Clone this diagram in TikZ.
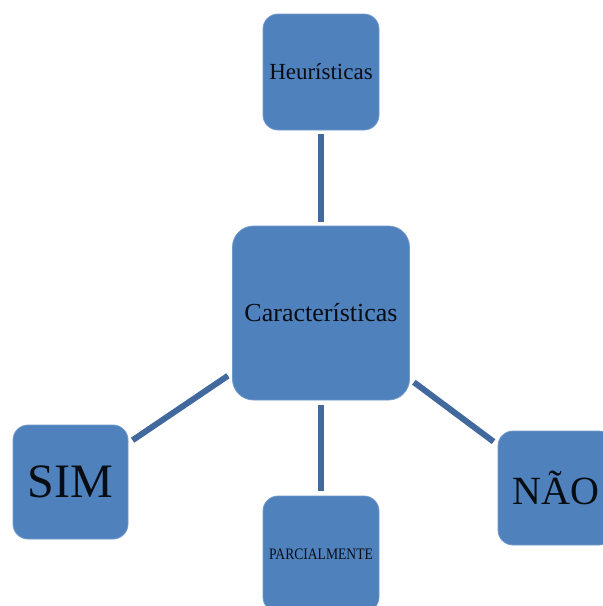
\documentclass[tikz,border=0pt]{standalone}
\usepackage{fontspec}
\setmainfont{Liberation Serif}
\usepackage{tikz}
\usetikzlibrary{calc}
\definecolor{boxblue}{HTML}{4F81BD}
\definecolor{linkblue}{HTML}{41699D}
\tikzset{
    card/.style={rounded corners=15pt, fill=boxblue, draw=boxblue!80!white, line width=0.8pt, minimum width=116pt, minimum height=116pt, inner sep=0pt, text=black!90!boxblue},
    link/.style={draw=linkblue, line width=6pt, shorten <=#1, shorten >=#1},
    link/.default=5pt
}

\begin{document}
\begin{tikzpicture}[x=1pt,y=-1pt]
\useasboundingbox (0,0) rectangle (603,606);
\clip (0,0) rectangle (603,606);
\node[card, rounded corners=21pt, minimum width=177pt, minimum height=174pt] (carac) at (321,313) {\fontsize{26}{30}\selectfont Características};
\foreach \x/\y/\p/\w/\h/\labeltext in {321/72/heur/116/116/{\fontsize{23}{26}\selectfont Heurísticas}, 70.5/482/sim/115/114/{\fontsize{48}{52}\selectfont SIM}, 321/554/parc/116/116/{\scalebox{0.85}[1]{\fontsize{16}{18}\selectfont PARCIALMENTE}}, 556/488/nao/116/114/{\fontsize{40}{46}\selectfont NÃO}}{
    \node[card, minimum width=\w pt, minimum height=\h pt] (\p) at (\x,\y) {\labeltext};
}
\draw[link=4pt] (heur) -- (carac);
\draw[link] (carac) -- (parc);
\draw[link] (carac) -- (sim);
\draw[link] (carac) -- (nao);
\end{tikzpicture}
\end{document}
